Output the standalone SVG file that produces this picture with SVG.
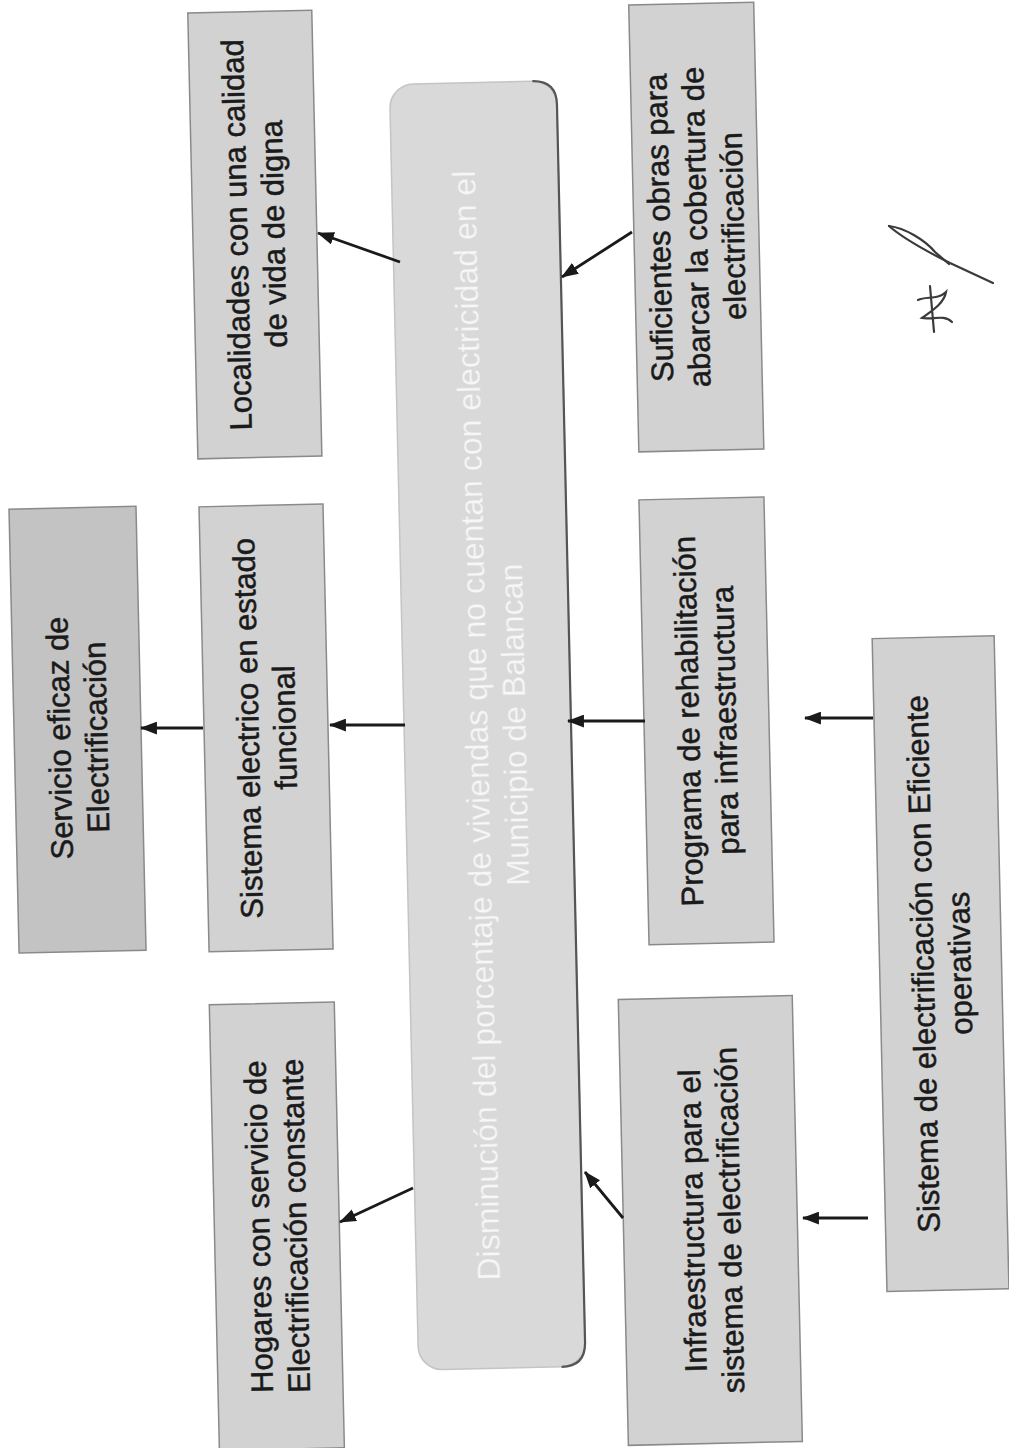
<svg xmlns="http://www.w3.org/2000/svg" width="1009" height="1448" viewBox="0 0 1009 1448">
<style>
.box{fill:#d2d2d2;stroke:#8a8a8a;stroke-width:1.5}
.dark{fill:#c3c3c3}
.t{font-family:"Liberation Sans",Arial,sans-serif;font-size:31px;fill:#1a1a1a;stroke:#1a1a1a;stroke-width:0.5;text-anchor:middle}
.c{font-family:"Liberation Sans",Arial,sans-serif;font-size:32px;fill:#f7f7f7;stroke:#e2e2e2;stroke-width:0.4;text-anchor:middle}
.arr{stroke:#1a1a1a;stroke-width:2.8;fill:none;marker-end:url(#ah)}
.sig{stroke:#3a3a3a;stroke-width:2.2;fill:none;stroke-linecap:round}
</style>
<defs>
<marker id="ah" viewBox="0 0 16 12" refX="15" refY="6" markerWidth="17" markerHeight="13" markerUnits="userSpaceOnUse" orient="auto">
<path d="M0,0 L16,6 L0,12 Z" fill="#1a1a1a"/>
</marker>
</defs>
<rect width="1009" height="1448" fill="#ffffff"/>
<g transform="rotate(-1.3 504 724)">
<g id="n_localidades">
<rect class="box" x="204" y="6" width="124" height="446"/>
<text class="t" transform="translate(258.5,229) rotate(-90)"><tspan x="0" y="0">Localidades con una calidad</tspan><tspan x="0" y="37">de vida de digna</tspan></text>
</g>
<g id="n_sistema_electrico">
<rect class="box" x="204" y="500" width="124" height="445"/>
<text class="t" transform="translate(258.5,722.5) rotate(-90)"><tspan x="0" y="0">Sistema electrico en estado</tspan><tspan x="0" y="37">funcional</tspan></text>
</g>
<g id="n_hogares">
<rect class="box" x="203" y="998" width="125" height="446"/>
<text class="t" transform="translate(258,1221) rotate(-90)"><tspan x="0" y="0">Hogares con servicio de</tspan><tspan x="0" y="37">Electrificación constante</tspan></text>
</g>
<g id="n_servicio">
<rect class="box dark" x="14" y="498" width="127" height="444"/>
<text class="t" transform="translate(70,728) rotate(-90)"><tspan x="0" y="0">Servicio eficaz de</tspan><tspan x="0" y="37">Electrificación</tspan></text>
</g>
<g id="n_central">
<rect x="404" y="82" width="167" height="1286" rx="24" fill="#d9d9d9" stroke="#c4c4c4" stroke-width="1.5"/>
<path d="M547,82 Q571,82 571,106 L571,1344 Q571,1368 547,1368" fill="none" stroke="#555" stroke-width="2.2"/>
<text class="c" transform="translate(487.5,725) rotate(-90)"><tspan x="0" y="0">Disminución del porcentaje de viviendas que no cuentan con electricidad en el</tspan><tspan x="0" y="38">Municipio de Balancan</tspan></text>
</g>
<g id="n_suficientes">
<rect class="box" x="645" y="8" width="125" height="447"/>
<text class="t" transform="translate(681,231.5) rotate(-90)"><tspan x="0" y="0">Suficientes obras para</tspan><tspan x="0" y="37">abarcar la cobertura de</tspan><tspan x="0" y="74">electrificación</tspan></text>
</g>
<g id="n_programa">
<rect class="box" x="644" y="503" width="125" height="445"/>
<text class="t" transform="translate(699,725.5) rotate(-90)"><tspan x="0" y="0">Programa  de rehabilitación</tspan><tspan x="0" y="37">para infraestructura</tspan></text>
</g>
<g id="n_infraestructura">
<rect class="box" x="612" y="1002" width="174" height="446"/>
<text class="t" transform="translate(692,1225) rotate(-90)"><tspan x="0" y="0">Infraestructura  para el</tspan><tspan x="0" y="37">sistema de electrificación</tspan></text>
</g>
<g id="n_sistema_eficiente">
<rect class="box" x="874" y="647" width="122" height="653"/>
<text class="t" transform="translate(928,973.5) rotate(-90)"><tspan x="0" y="0">Sistema de electrificación con Eficiente</tspan><tspan x="0" y="37">operativas</tspan></text>
</g>
</g>
<g id="connectors">
<path class="arr" d="M203,728 L141,728"/>
<path class="arr" d="M405,725 L330,725"/>
<path class="arr" d="M400,262 L318,233"/>
<path class="arr" d="M413,1188 L340,1222"/>
<path class="arr" d="M645,721 L568,721"/>
<path class="arr" d="M632,232 L562,277"/>
<path class="arr" d="M623,1218 L585,1172"/>
<path class="arr" d="M873,718 L805,718"/>
<path class="arr" d="M868,1218 L803,1218"/>
</g>
<g id="signature">
<path class="sig" d="M889,226 C905,240 932,254 950,263 L993,283"/>
<path class="sig" d="M889,226 C905,228 925,240 935,252 L949,264"/>
<path class="sig" d="M918,300 C926,296 938,300 946,292 C944,304 930,312 922,318 C932,320 944,314 952,322 M930,286 L934,332"/>
</g>
</svg>
